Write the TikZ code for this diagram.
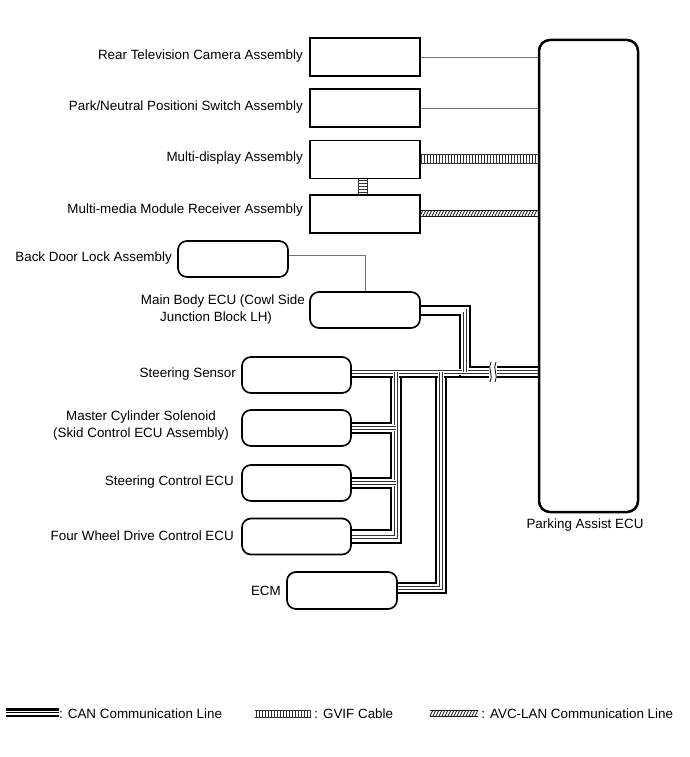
\documentclass[tikz,border=0pt]{standalone}
\usepackage{fontspec}
\setmainfont{Liberation Sans}
\pgfdeclarelayer{bg}
\pgfsetlayers{bg,main}
\newcommand\cthin[1]{\draw[halo] #1; \draw[dbl] #1;}
\begin{document}
\begin{tikzpicture}[x=1pt,y=-1pt,
  txt/.style={font=\fontsize{13.4}{15.5}\selectfont, inner sep=0pt},
  sqbox/.style={draw, line width=1.7pt, fill=white, inner sep=0pt},
  rbox/.style={draw, line width=1.7pt, fill=white, rounded corners=9pt, inner sep=0pt},
  ecubox/.style={draw, line width=2.5pt, fill=white, rounded corners=11pt, inner sep=0pt},
  thinln/.style={draw=black!55, line width=0.9pt},
  thk/.style={draw=black, line width=2.8pt},
  halo/.style={draw=white, line width=6pt},
  dbl/.style={draw=black!80, line width=0.7pt, double=white, double distance=2.2pt},
  tick/.style={draw=black!80, line width=0.65pt},
  hatch/.style={draw=black!90, line width=0.75pt},
]
\useasboundingbox (0,0) rectangle (690,757);

% ---- boxes ----
\node[sqbox, minimum width=110pt, minimum height=38pt] (cam) at (365,57) {};
\node[sqbox, minimum width=110pt, minimum height=38pt] (park) at (365,108) {};
\node[sqbox, minimum width=110pt, minimum height=38pt] (md) at (365,159.5) {};
\node[sqbox, minimum width=110pt, minimum height=38pt] (mm) at (365,214) {};
\node[ecubox, minimum width=99pt, minimum height=472pt] (ecu) at (588.5,276) {};
\node[rbox, minimum width=110pt, minimum height=36pt] (bd) at (233,259) {};
\node[rbox, minimum width=110pt, minimum height=36pt] (mb) at (365,310) {};
\node[rbox, minimum width=109pt, minimum height=36pt] (ss) at (296.5,375) {};
\node[rbox, minimum width=109pt, minimum height=36pt] (mc) at (296.5,428) {};
\node[rbox, minimum width=109pt, minimum height=36pt] (sc) at (296.5,483) {};
\node[rbox, minimum width=109pt, minimum height=36pt] (fw) at (296.5,536.5) {};
\node[rbox, minimum width=110pt, minimum height=37pt] (ecm) at (342,590.5) {};

% ---- labels ----
\node[txt, anchor=east] (tcam) at (303,56) {Rear Television Camera Assembly};
\node[txt, anchor=east] (tpark) at (303,107) {Park/Neutral Positioni Switch Assembly};
\node[txt, anchor=east] (tmd) at (303,158) {Multi-display Assembly};
\node[txt, anchor=east] (tmm) at (303,210) {Multi-media Module Receiver Assembly};
\node[txt, anchor=east] (tbd) at (172,258) {Back Door Lock Assembly};
\node[txt, anchor=east] (tmb1) at (305,301) {Main Body ECU (Cowl Side};
\node[txt, anchor=west] (tmb2) at (160,318) {Junction Block LH)};
\node[txt, anchor=east] (tss) at (236,374) {Steering Sensor};
\node[txt, align=center] (tmc) at (141,426) {Master Cylinder Solenoid\\[1.5pt](Skid Control ECU Assembly)};
\node[txt, anchor=east] (tsc) at (234,482) {Steering Control ECU};
\node[txt, anchor=east] (tfw) at (234,536) {Four Wheel Drive Control ECU};
\node[txt, anchor=east] (tecm) at (281,591) {ECM};
\node[txt] (tecu) at (585,525) {Parking Assist ECU};

% ---- legend ----
\coordinate (lc1) at (6,709.5);
\coordinate (lc2) at (59,709.5);
\draw[thk, line width=2.1pt] (lc1) -- (lc2);
\draw[black, line width=1.1pt] (6,712.7) -- (59,712.7);
\draw[thk, line width=2.1pt] (6,716) -- (59,716);
\node[txt, anchor=west] (lcan) at (59,714) {: CAN Communication Line};
\draw[tick] (255,710) -- (311,710);
\draw[tick] (255,717) -- (311,717);
\foreach \i in {256,259,...,310} {\draw[tick] (\i,710) -- (\i,717);}
\node[txt, anchor=west] (lgvif) at (312,714) {\,: GVIF Cable};
\draw[hatch] (430,710) -- (478,710);
\draw[hatch] (430,716) -- (478,716);
\foreach \i in {430,433,...,475} {\draw[hatch] (\i,716) -- (\i+3,710);}
\node[txt, anchor=west] (lavc) at (479,714) {\,: AVC-LAN Communication Line};

\begin{pgfonlayer}{bg}
% thin signal lines
\draw[thinln] (cam.east) -- (cam.east -| ecu.west);
\draw[thinln] (park.east) -- (park.east -| ecu.west);
\draw[thinln] (bd.east |- 0,255) -- (365,255) -- (mb.north -| 365,0);
% GVIF horizontal
\draw[tick] (md.east |- 0,154) -- (ecu.west |- 0,154);
\draw[tick] (md.east |- 0,163) -- (ecu.west |- 0,163);
\foreach \i in {421,424,...,538} {\draw[tick] (\i,154) -- (\i,163);}
% GVIF vertical
\draw[tick] (358,178) -- (358,195);
\draw[tick] (367,178) -- (367,195);
\foreach \j in {180,183,...,194} {\draw[tick] (358,\j) -- (367,\j);}
% AVC-LAN
\draw[hatch] (mm.east |- 0,210) -- (ecu.west |- 0,210);
\draw[hatch] (mm.east |- 0,216) -- (ecu.west |- 0,216);
\foreach \i in {420,423,...,535} {\draw[hatch] (\i,216) -- (\i+3,210);}

% ---- CAN thick lines ----
\draw[thk] (mb.east |- 0,306) -- (470,306) -- (470,367) -- (ecu.west |- 0,367);
\draw[thk] (mb.east |- 0,315) -- (460,315) -- (460,377);
\draw[thk] (ss.east |- 0,377) -- (ecu.west |- 0,377);
\draw[thk] (391,377) -- (391,423) -- (mc.east |- 0,423);
\draw[thk] (mc.east |- 0,433) -- (391,433) -- (391,478) -- (sc.east |- 0,478);
\draw[thk] (sc.east |- 0,488) -- (391,488) -- (391,530) -- (fw.east |- 0,530);
\draw[thk] (401,377) -- (401,543) -- (fw.east |- 0,543);
\draw[thk] (436,377) -- (436,583) -- (ecm.east |- 0,583);
\draw[thk] (446,377) -- (446,593) -- (ecm.east |- 0,593);

% ---- CAN thin double lines ----
\cthin{(ss.east |- 0,372) -- (ecu.west |- 0,372)}
\cthin{(mb.east |- 0,310.5) -- (465,310.5) -- (465,372)}
\cthin{(396,372) -- (396,537) -- (fw.east |- 0,537)}
\cthin{(mc.east |- 0,428) -- (396,428)}
\cthin{(sc.east |- 0,483) -- (396,483)}
\cthin{(441,372) -- (441,588) -- (ecm.east |- 0,588)}

% break mark
\fill[white] (489,361) rectangle (497,383);
\draw[black, line width=0.8pt] (491,362) .. controls (487,368) and (494,376) .. (490,382);
\draw[black, line width=0.8pt] (496,362) .. controls (492,368) and (499,376) .. (495,382);
\end{pgfonlayer}
\end{tikzpicture}
\end{document}
